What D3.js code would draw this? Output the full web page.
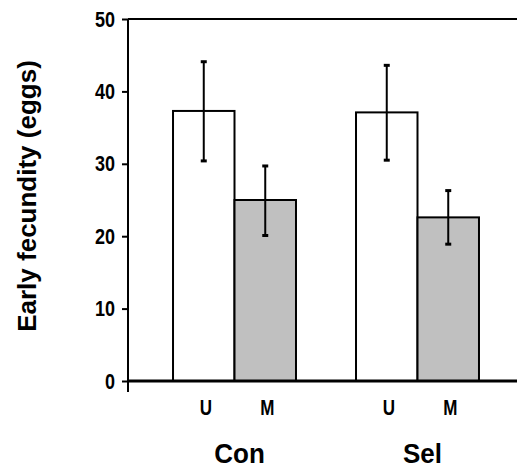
<!DOCTYPE html>
<html lang="en">
<head>
    <meta charset="UTF-8">
    <title>Early fecundity</title>
    <script src="https://d3js.org/d3.v7.min.js"></script>
    <style>
        body { margin: 0; background: #fff; font-family: "Liberation Sans", Arial, sans-serif; }
        .tick text { font-family: "Liberation Sans", Arial, sans-serif; font-size: 18px; fill: #000; }
    </style>
</head>
<body>
    <svg width="517" height="469"></svg>
    <script>
        // data
        const groups = ["Con", "Sel"];
        const treatments = ["U", "M"];
        const means = { Con: [37.3, 25.0], Sel: [37.1, 22.6] };
        const errLow = { Con: [30.4, 20.1], Sel: [30.5, 18.9] };
        const errHigh = { Con: [44.1, 29.7], Sel: [43.6, 26.3] };
        const yTicks = [0, 10, 20, 30, 40, 50];
        const fills = { U: "#ffffff", M: "#c0c0c0" };

        const rows = [];
        groups.forEach(g => treatments.forEach((t, i) => rows.push({
            group: g, treat: t, mean: means[g][i], lo: errLow[g][i], hi: errHigh[g][i]
        })));

        const W = 517, axisX = 128;
        const svg = d3.select("svg");

        const y = d3.scaleLinear().domain([0, 50]).range([381, 19]);
        const x0 = d3.scaleBand().domain(groups).range([axisX, 524])
            .paddingInner(0.328).paddingOuter(0.246);
        const x1 = d3.scaleBand().domain(treatments).range([0, x0.bandwidth()]);

        // bars
        svg.selectAll(".bar")
            .data(rows)
            .enter().append("rect")
            .attr("class", "bar")
            .attr("x", d => x0(d.group) + x1(d.treat))
            .attr("y", d => y(d.mean))
            .attr("width", x1.bandwidth())
            .attr("height", d => y(0) - y(d.mean))
            .attr("fill", d => fills[d.treat])
            .attr("stroke", "#000")
            .attr("stroke-width", 2);

        // error bars
        const cx = d => x0(d.group) + x1(d.treat) + x1.bandwidth() / 2;
        const err = svg.append("g");
        err.selectAll(".stem").data(rows).enter().append("line")
            .attr("x1", cx).attr("x2", cx)
            .attr("y1", d => y(d.lo)).attr("y2", d => y(d.hi))
            .attr("stroke", "#000").attr("stroke-width", 2);
        ["lo", "hi"].forEach(k => {
            err.selectAll(".cap-" + k).data(rows).enter().append("line")
                .attr("x1", d => cx(d) - 3).attr("x2", d => cx(d) + 3)
                .attr("y1", d => y(d[k])).attr("y2", d => y(d[k]))
                .attr("stroke", "#000").attr("stroke-width", 3);
        });

        // y axis
        const yAxis = svg.append("g")
            .attr("transform", `translate(${axisX},0)`)
            .call(d3.axisLeft(y).tickValues(yTicks).tickSize(6).tickPadding(7));
        yAxis.select(".domain").remove();
        yAxis.selectAll(".tick line").attr("stroke", "#000").attr("stroke-width", 2);
        yAxis.selectAll(".tick text")
            .attr("font-weight", "bold")
            .attr("transform", "scale(1,1.22)");

        svg.append("line")
            .attr("x1", axisX).attr("x2", axisX)
            .attr("y1", y(50)).attr("y2", y(0) + 11)
            .attr("stroke", "#000").attr("stroke-width", 2);

        // top frame line and x axis line
        svg.append("line")
            .attr("x1", axisX).attr("x2", W)
            .attr("y1", y(50)).attr("y2", y(50))
            .attr("stroke", "#000").attr("stroke-width", 2);
        svg.append("line")
            .attr("x1", axisX).attr("x2", W)
            .attr("y1", y(0)).attr("y2", y(0))
            .attr("stroke", "#000").attr("stroke-width", 3);

        // treatment labels
        svg.selectAll(".treat-label").data(rows).enter().append("text")
            .attr("transform", d => `translate(${cx(d) + 2},415) scale(1,1.25)`)
            .attr("text-anchor", "middle")
            .attr("font-size", 17)
            .attr("font-weight", "bold")
            .text(d => d.treat);

        // group labels
        svg.selectAll(".group-label").data(groups).enter().append("text")
            .attr("transform", d => `translate(${x0(d) + x0.bandwidth() / 2 + 5},463) scale(1,1.05)`)
            .attr("text-anchor", "middle")
            .attr("font-size", 26)
            .attr("font-weight", "bold")
            .text(d => d);

        // y axis title
        svg.append("text")
            .attr("transform", "translate(36,196) rotate(-90)")
            .attr("text-anchor", "middle")
            .attr("font-size", 26)
            .attr("font-weight", "bold")
            .text("Early fecundity (eggs)");
    </script>
</body>
</html>
